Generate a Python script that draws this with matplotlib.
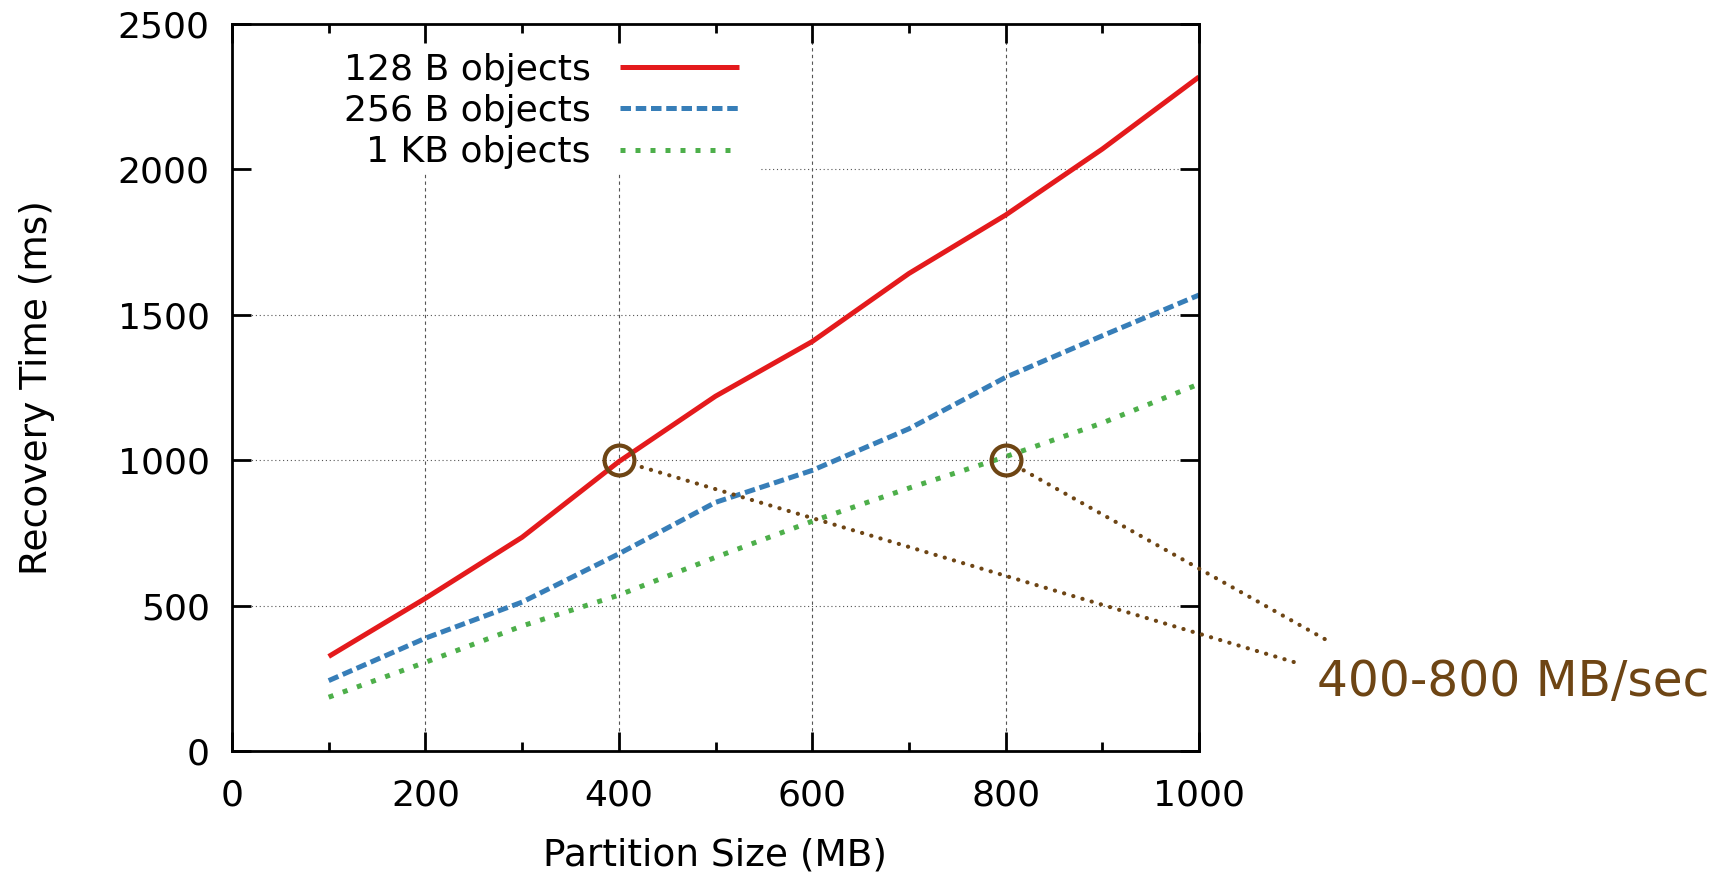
import matplotlib
matplotlib.use("Agg")
import matplotlib.pyplot as plt
from matplotlib.patches import Rectangle
from matplotlib.ticker import MultipleLocator

# ---- data ----
partition_mb = [100, 200, 300, 400, 500, 600, 700, 800, 900, 1000]
t_128b = [325, 525, 735, 995, 1220, 1408, 1642, 1843, 2070, 2318]
t_256b = [242, 388, 512, 678, 855, 965, 1108, 1285, 1428, 1568]
t_1kb = [185, 305, 430, 536, 666, 790, 904, 1012, 1128, 1262]
series_labels = ["128 B objects", "256 B objects", "1 KB objects"]
x_ticks = [0, 200, 400, 600, 800, 1000]
y_ticks = [0, 500, 1000, 1500, 2000, 2500]
x_label = "Partition Size (MB)"
y_label = "Recovery Time (ms)"
note_text = "400-800 MB/sec"
note_points = [(400, 1000), (800, 1000)]
note_ends = [(1098, 306), (1130, 385)]
note_text_pos = (1122, 236)

RED, BLUE, GREEN = "#e41a1c", "#377eb8", "#4daf4a"
BROWN = "#6e4514"
GRID = "#555555"

plt.rcParams["font.family"] = ["DejaVu Sans"]

fig = plt.figure(figsize=(17.31, 8.81), dpi=100)
ax = fig.add_axes([232 / 1731, 1 - 751 / 881, 967 / 1731, 727 / 881])

# grid drawn from the tick lists, beneath everything
ax.vlines(x_ticks[1:-1], 0, 2500, colors=GRID, lw=0.8,
          linestyles=[(0, (3, 3))], zorder=0.3)
ax.hlines(y_ticks[1:-1], 0, 1000, colors=GRID, lw=0.8,
          linestyles=[(0, (1, 2.5))], zorder=0.3)
# white key background masking the grid
ax.add_patch(Rectangle((0, 0.797), 0.546, 0.203, transform=ax.transAxes,
                       facecolor="white", edgecolor="none", zorder=0.4))

lw = 3.6
ax.plot(partition_mb, t_128b, color=RED, lw=lw, label=series_labels[0],
        solid_capstyle="butt")
ax.plot(partition_mb, t_256b, color=BLUE, lw=lw, label=series_labels[1],
        linestyle=(0, (2.1, 0.95)), dash_capstyle="butt")
ax.plot(partition_mb, t_1kb, color=GREEN, lw=lw, label=series_labels[2],
        linestyle=(0, (1.0, 2.0)), dash_capstyle="butt")

ax.set_xlim(0, 1000)
ax.set_ylim(0, 2500)
ax.set_xticks(x_ticks)
ax.set_yticks(y_ticks)
ax.xaxis.set_minor_locator(MultipleLocator(100))
ax.tick_params(axis="both", which="major", direction="in", length=13.5,
               width=2, top=True, right=True, labelsize=26, pad=16)
ax.tick_params(axis="x", which="major", pad=20)
ax.tick_params(axis="x", which="minor", direction="in", length=6.5,
               width=2, top=True, bottom=True)
for s in ax.spines.values():
    s.set_linewidth(2)

ax.set_xlabel(x_label, fontsize=27)
ax.set_ylabel(y_label, fontsize=27)
ax.xaxis.label.set_va("center")
ax.yaxis.label.set_va("center")
ax.xaxis.set_label_coords(0.4995, -0.1444)
ax.yaxis.set_label_coords(-0.202, 0.5)

leg = ax.legend(loc="upper right", bbox_to_anchor=(0.554, 1.0),
                markerfirst=False, fontsize=26, handlelength=3.3,
                handletextpad=0.8, labelspacing=0.2, borderpad=0.8,
                borderaxespad=0.0, frameon=False)
for t in leg.get_texts():
    t.set_ha("right")
leg._legend_box.align = "right"

# annotation circles and dotted connectors
for (px, py), (ex, ey) in zip(note_points, note_ends):
    ax.plot([px], [py], marker="o", markersize=21.5, markerfacecolor="none",
            markeredgecolor=BROWN, markeredgewidth=3, zorder=5)
    ax.annotate("", xy=(px, py), xytext=(ex, ey), xycoords="data",
                textcoords="data", annotation_clip=False,
                arrowprops=dict(arrowstyle="-", color=BROWN, lw=3,
                                linestyle=(0, (0.05, 2.25)), capstyle="round",
                                shrinkA=0, shrinkB=12))
ax.text(note_text_pos[0], note_text_pos[1], note_text, fontsize=35,
        color=BROWN, ha="left", va="center", clip_on=False)

fig.savefig("out.png", dpi=100)
